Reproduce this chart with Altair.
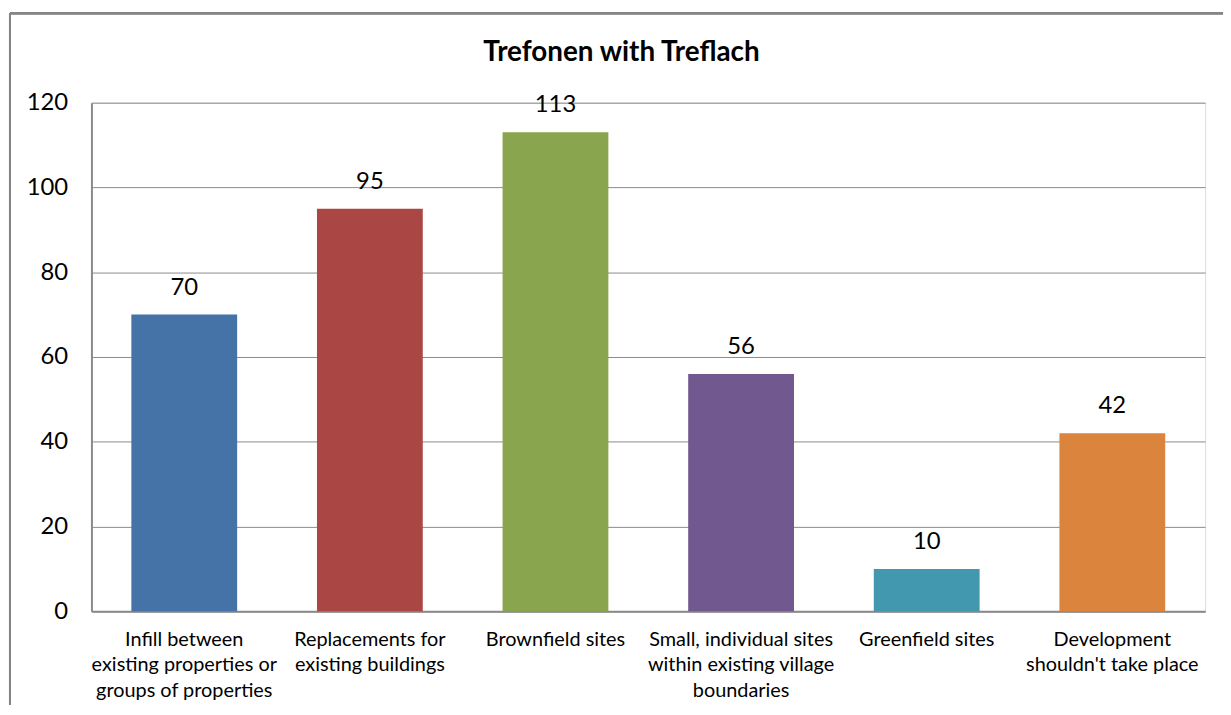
import altair as alt
import pandas as pd

categories = [
    "Infill between|existing properties or|groups of properties",
    "Replacements for|existing buildings",
    "Brownfield sites",
    "Small, individual sites|within existing village|boundaries",
    "Greenfield sites",
    "Development|shouldn't take place",
]
values = [70, 95, 113, 56, 10, 42]
colors = ["#4572A7", "#AA4643", "#89A54E", "#71588F", "#4198AF", "#DB843D"]
y_ticks = [0, 20, 40, 60, 80, 100, 120]

df = pd.DataFrame({"category": categories, "value": values, "color": colors})

FONT = "Lato"
GRID = "#8a8a8a"

x_enc = alt.X(
    "category:N",
    sort=None,
    title=None,
    scale=alt.Scale(paddingInner=0.43, paddingOuter=0.215),
    axis=alt.Axis(
        labelAngle=0,
        labelExpr="split(datum.value, '|')",
        labelFont=FONT,
        labelFontSize=20,
        labelColor="#000000",
        labelLineHeight=26,
        labelPadding=18,
        labelBaseline="top",
        ticks=False,
        domainColor=GRID,
        domainWidth=2,
        grid=False,
        labelLimit=300,
    ),
)
y_enc = alt.Y(
    "value:Q",
    title=None,
    scale=alt.Scale(domain=[0, 120], nice=False),
    axis=alt.Axis(
        values=y_ticks,
        labelFont=FONT,
        labelFontSize=24,
        labelColor="#000000",
        labelPadding=24,
        ticks=False,
        domainColor=GRID,
        domainWidth=2,
        gridColor=GRID,
        gridWidth=1,
    ),
)

bars = alt.Chart(df).mark_bar().encode(
    x=x_enc,
    y=y_enc,
    color=alt.Color("color:N", scale=None),
)

labels = alt.Chart(df).mark_text(
    font=FONT, fontSize=24, color="#000000", dy=-20, baseline="alphabetic"
).encode(
    x=alt.X("category:N", sort=None),
    y="value:Q",
    text="value:Q",
)

border_left = alt.Chart(df).mark_rule(color="#858585", strokeWidth=2, clip=False).encode(
    x=alt.value(-82), y=alt.value(-90), y2=alt.value(700)
)
border_top = alt.Chart(df).mark_rule(color="#858585", strokeWidth=2, clip=False).encode(
    x=alt.value(-82), x2=alt.value(1300), y=alt.value(-90)
)

chart = (
    alt.layer(bars, labels, border_left, border_top)
    .properties(
        width=1121,
        height=512,
        autosize=alt.AutoSizeParams(type="none"),
        padding={"left": 84, "top": 93, "right": 18, "bottom": 92},
        title=alt.TitleParams(
            "Trefonen with Treflach",
            font=FONT,
            fontSize=28,
            fontWeight="bold",
            color="#000000",
            anchor="middle",
            frame="group",
            dx=-27,
            offset=-55,
        ),
    )
    .configure_view(stroke=None)
    .configure(background="#ffffff")
)

chart.save("out.html", embed_options={"renderer": "svg", "actions": False})
